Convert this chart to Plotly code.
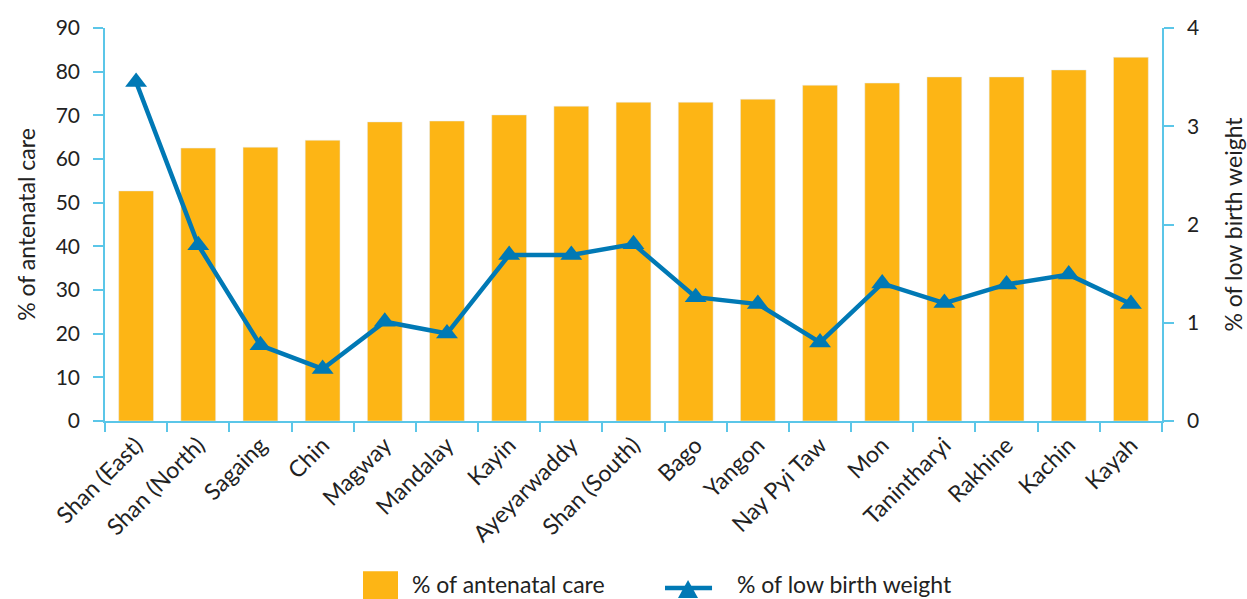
import plotly.graph_objects as go

regions = ["Shan (East)", "Shan (North)", "Sagaing", "Chin", "Magway", "Mandalay",
           "Kayin", "Ayeyarwaddy", "Shan (South)", "Bago", "Yangon", "Nay Pyi Taw",
           "Mon", "Tanintharyi", "Rakhine", "Kachin", "Kayah"]
antenatal = [52.7, 62.5, 62.7, 64.3, 68.5, 68.7, 70.1, 72.1, 73.0, 73.0, 73.7,
             76.9, 77.4, 78.8, 78.8, 80.4, 83.3]
low_bw = [3.45, 1.79, 0.77, 0.53, 1.01, 0.89, 1.69, 1.69, 1.80, 1.26, 1.19,
          0.80, 1.40, 1.20, 1.39, 1.49, 1.19]

axis_col = "#5BC6E8"
bar_col = "#FDB515"
line_col = "#0079B5"
font = "Lato, 'Noto Sans', sans-serif"

fig = go.Figure()
fig.add_trace(go.Bar(x=regions, y=antenatal, name="% of antenatal care",
                     marker_color=bar_col, yaxis="y"))
fig.add_trace(go.Scatter(x=regions, y=low_bw, name="% of low birth weight",
                         mode="lines+markers", yaxis="y2",
                         line=dict(color=line_col, width=4.5),
                         marker=dict(symbol="triangle-up", size=19, color=line_col)))

# legend drawn by hand (plotly caps legend swatch size)
fig.add_shape(type="rect", xref="paper", yref="paper", x0=0.2441, x1=0.2772,
              y0=-0.47, y1=-0.382, fillcolor=bar_col, line_width=0, layer="above")
fig.add_shape(type="line", xref="paper", yref="paper", x0=0.5298, x1=0.5743,
              y0=-0.425, y1=-0.425, line=dict(color=line_col, width=4.5))
fig.add_shape(type="path", xref="paper", yref="paper",
              path="M 0.5421,-0.4504 L 0.5610,-0.4504 L 0.5516,-0.4046 Z",
              fillcolor=line_col, line_width=0)
for x, txt in [(0.2886, "% of antenatal care"), (0.5960, "% of low birth weight")]:
    fig.add_annotation(x=x, y=-0.416, xref="paper", yref="paper", text=txt,
                       showarrow=False, xanchor="left", yanchor="middle",
                       font=dict(size=23))

fig.update_layout(
    width=1247, height=599,
    margin=dict(l=105, r=85, t=28, b=178, autoexpand=False),
    plot_bgcolor="white", paper_bgcolor="white",
    font=dict(family=font, color="#222222"),
    bargap=0.44,
    showlegend=False,
    xaxis=dict(range=[-0.5, len(regions) - 0.5], showline=True, linecolor=axis_col,
               linewidth=1.5, ticks="outside", tickson="boundaries", tickcolor=axis_col,
               ticklen=9, tickwidth=1.5, tickangle=-45, automargin=False,
               tickfont=dict(size=23), showgrid=False),
    yaxis=dict(range=[0, 90], dtick=10, showline=True, linecolor=axis_col,
               linewidth=1.5, ticks="outside", tickcolor=axis_col, ticklen=10,
               tickwidth=1.5, tickfont=dict(size=21), showgrid=False,
               zeroline=False, automargin=False, ticklabelstandoff=9,
               title=dict(text="% of antenatal care", font=dict(size=23), standoff=14)),
    yaxis2=dict(range=[0, 4], dtick=1, overlaying="y", side="right",
                showline=True, linecolor=axis_col, linewidth=1.5,
                ticks="outside", tickcolor=axis_col, ticklen=10, tickwidth=1.5,
                tickfont=dict(size=21), showgrid=False, zeroline=False,
                automargin=False, ticklabelstandoff=9,
                title=dict(text="% of low birth weight", font=dict(size=23), standoff=28)),
)

fig.write_html("out.html", config={"displayModeBar": False},
               post_script="document.body.style.margin='0';")
